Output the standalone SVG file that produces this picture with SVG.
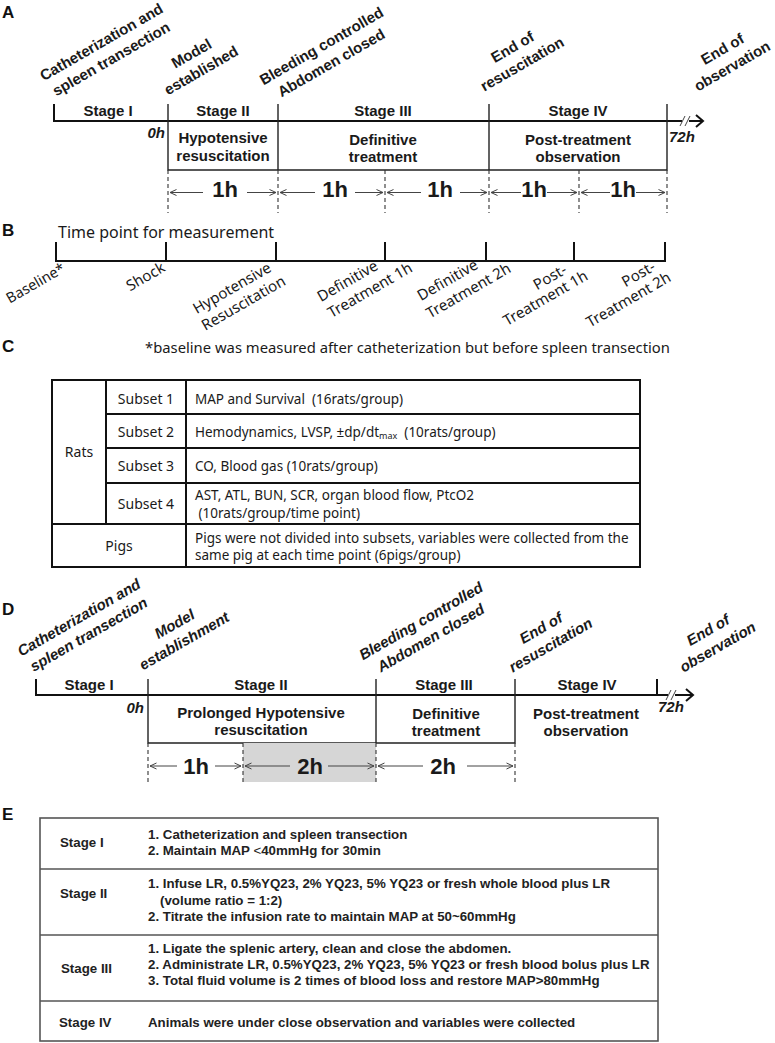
<svg xmlns="http://www.w3.org/2000/svg" width="775" height="1043" viewBox="0 0 775 1043">
<defs>
<style>
.h{font-family:"Liberation Sans",Arial,sans-serif;font-weight:bold;fill:#1a1a1a}
.pl{font-family:"Liberation Sans",Arial,sans-serif;font-weight:bold;font-size:17px;fill:#111}
.st{font-size:15px}
.rl{font-size:15px}
.it{font-style:italic}
.big{font-size:22px;text-anchor:middle}
.mid{text-anchor:middle}
.n{font-family:"Noto Sans","Open Sans",sans-serif;fill:#1a1a1a}
.ln{stroke:#111;stroke-width:2;fill:none}
.bx{stroke:#222;stroke-width:1.4;fill:none}
.ds{stroke:#333;stroke-width:1.1;stroke-dasharray:4 3;fill:none}
.ar{stroke:#444;stroke-width:1;fill:none}
.tb{stroke:#111;stroke-width:2;fill:none}
.te{stroke:#555;stroke-width:1.6;fill:none}
.e{font-family:"Liberation Sans",Arial,sans-serif;font-weight:bold;font-size:13.3px;fill:#222}
</style>
<marker id="oa" viewBox="0 0 8 8" refX="7.5" refY="4" markerWidth="8" markerHeight="8" markerUnits="userSpaceOnUse" orient="auto-start-reverse">
<path d="M1,1 L7.5,4 L1,7" fill="none" stroke="#444" stroke-width="1"/>
</marker>
</defs>
<rect width="775" height="1043" fill="#ffffff"/>

<!-- Panel labels -->
<g id="panel-labels">
<text class="pl" x="2" y="18">A</text>
<text class="pl" x="2" y="236">B</text>
<text class="pl" x="2" y="352">C</text>
<text class="pl" x="2" y="615">D</text>
<text class="pl" x="2" y="820">E</text>
</g>

<!-- ===== Panel A ===== -->
<g id="A-timeline">
<path class="ln" d="M54,104 V121 H682 M689,121 H703"/>
<path class="ln" d="M696,115 L703,121 L696,127"/>
<path class="ar" stroke-width="1.3" d="M680,126 L685,116 M685,126 L690,116"/>
<path class="bx" d="M168,104 V170 H667 V104 M278,104 V170 M489,104 V170"/>
</g>
<g id="A-labels">
<text class="h rl mid" transform="translate(104,46.5) rotate(-30)"><tspan x="0" y="0">Catheterization and</tspan><tspan x="0" y="19.5">spleen transection</tspan></text>
<text class="h rl mid" transform="translate(194,58) rotate(-30)"><tspan x="0" y="0">Model</tspan><tspan x="0" y="19.5">established</tspan></text>
<text class="h rl mid" transform="translate(324,50.5) rotate(-30)"><tspan x="0" y="0">Bleeding controlled</tspan><tspan x="0" y="19.5">Abdomen closed</tspan></text>
<text class="h rl mid" transform="translate(515,51.5) rotate(-30)"><tspan x="0" y="0">End of</tspan><tspan x="0" y="19.5">resuscitation</tspan></text>
<text class="h rl mid" transform="translate(725,53.5) rotate(-30)"><tspan x="0" y="0">End of</tspan><tspan x="0" y="19.5">observation</tspan></text>
</g>
<g id="A-stages">
<text class="h st mid" x="108" y="115.5">Stage I</text>
<text class="h st mid" x="223" y="115.5">Stage II</text>
<text class="h st mid" x="383" y="115.5">Stage III</text>
<text class="h st mid" x="578" y="115.5">Stage IV</text>
<text class="h st it" x="165" y="138" text-anchor="end">0h</text>
<text class="h st it" x="669" y="142">72h</text>
<text class="h st mid" x="223" y="143"><tspan x="223">Hypotensive</tspan><tspan x="223" y="160.5">resuscitation</tspan></text>
<text class="h st mid" x="383" y="144.5"><tspan x="383">Definitive</tspan><tspan x="383" y="162">treatment</tspan></text>
<text class="h st mid" x="578" y="144.5"><tspan x="578">Post-treatment</tspan><tspan x="578" y="162">observation</tspan></text>
</g>
<g id="A-durations">
<path class="ds" d="M168,170 V213 M278,170 V213 M385,170 V213 M489,170 V213 M579,170 V213 M667,170 V213"/>
<g id="A-connectors">
<path class="ar" marker-end="url(#oa)" d="M203,192.5 H170"/>
<path class="ar" marker-end="url(#oa)" d="M247,192.5 H276"/>
<path class="ar" marker-end="url(#oa)" d="M315,192.5 H280"/>
<path class="ar" marker-end="url(#oa)" d="M355,192.5 H383"/>
<path class="ar" marker-end="url(#oa)" d="M421,192.5 H387"/>
<path class="ar" marker-end="url(#oa)" d="M460,192.5 H487"/>
<path class="ar" marker-end="url(#oa)" d="M521,192.5 H491"/>
<path class="ar" marker-end="url(#oa)" d="M547,192.5 H577"/>
<path class="ar" marker-end="url(#oa)" d="M610,192.5 H581"/>
<path class="ar" marker-end="url(#oa)" d="M636,192.5 H665"/>
</g>
<text class="h big" x="225" y="197">1h</text>
<text class="h big" x="335" y="197">1h</text>
<text class="h big" x="440" y="197">1h</text>
<text class="h big" x="534" y="197">1h</text>
<text class="h big" x="623" y="197">1h</text>
</g>

<!-- ===== Panel B ===== -->
<g id="B-timeline">
<text class="n" x="58" y="238" font-size="16">Time point for measurement</text>
<path class="ln" stroke-width="1.6" d="M56,242 V261 H665 V242 M166,242 V261 M276,242 V261 M385,242 V261 M486,242 V261 M574,242 V261"/>
</g>
<g id="B-labels" class="n" font-size="15" text-anchor="middle">
<text transform="translate(38,287.5) rotate(-30)" font-size="14.5">Baseline*</text>
<text transform="translate(148,281) rotate(-30)">Shock</text>
<text transform="translate(234.5,292.5) rotate(-30)">Hypotensive</text>
<text transform="translate(246,307.5) rotate(-30)">Resuscitation</text>
<text transform="translate(350,285.5) rotate(-30)">Definitive</text>
<text transform="translate(372.5,294.5) rotate(-30)">Treatment 1h</text>
<text transform="translate(450,284.5) rotate(-30)">Definitive</text>
<text transform="translate(471,295) rotate(-30)">Treatment 2h</text>
<text transform="translate(552.5,281.5) rotate(-30)">Post-</text>
<text transform="translate(548,302.5) rotate(-30)">Treatment 1h</text>
<text transform="translate(641,278.5) rotate(-30)">Post-</text>
<text transform="translate(631,304) rotate(-30)">Treatment 2h</text>
</g>

<!-- ===== Panel C ===== -->
<g id="C-note">
<text class="n" x="145" y="353" font-size="14.8">*baseline was measured after catheterization but before spleen transection</text>
</g>
<g id="C-table">
<rect class="tb" x="52" y="380" width="588" height="187"/>
<path class="tb" d="M106,380 V524 M186,380 V567 M106,414 H640 M106,448 H640 M106,483 H640 M52,524 H640"/>
<g class="n" font-size="13.5">
<text x="79" y="457" text-anchor="middle" font-size="14">Rats</text>
<text x="146" y="403.5" text-anchor="middle" font-size="14">Subset 1</text>
<text x="146" y="437" text-anchor="middle" font-size="14">Subset 2</text>
<text x="146" y="471" text-anchor="middle" font-size="14">Subset 3</text>
<text x="146" y="509" text-anchor="middle" font-size="14">Subset 4</text>
<text x="119" y="550.5" text-anchor="middle" font-size="14">Pigs</text>
<text x="195" y="403.5" style="white-space:pre">MAP and Survival  (16rats/group)</text>
<text x="195" y="437" style="white-space:pre">Hemodynamics, LVSP, ±dp/dt<tspan font-size="9" dy="2">max</tspan><tspan dy="-2">  (10rats/group)</tspan></text>
<text x="195" y="471">CO, Blood gas (10rats/group)</text>
<text x="195" y="500">AST, ATL, BUN, SCR, organ blood flow, PtcO2</text>
<text x="195" y="517.5" style="white-space:pre"> (10rats/group/time point)</text>
<text x="195" y="542.5">Pigs were not divided into subsets, variables were collected from the</text>
<text x="195" y="560">same pig at each time point (6pigs/group)</text>
</g>
</g>

<!-- ===== Panel D ===== -->
<g id="D-timeline">
<path class="ln" d="M36,679 V695 H668 M675,695 H693"/>
<path class="ln" d="M686,689 L693,695 L686,701"/>
<path class="ar" stroke-width="1.3" d="M666,700 L671,690 M671,700 L676,690"/>
<path class="ln" d="M657,679 V695"/>
<path class="bx" d="M148,679 V743 H515 V679 M376,679 V743"/>
</g>
<g id="D-labels">
<text class="h rl it mid" transform="translate(81.5,622) rotate(-30)"><tspan x="0" y="0">Catheterization and</tspan><tspan x="0" y="19.5">spleen transection</tspan></text>
<text class="h rl it mid" transform="translate(177,628.5) rotate(-30)"><tspan x="0" y="0">Model</tspan><tspan x="0" y="19.5">establishment</tspan></text>
<text class="h rl it mid" transform="translate(423.5,625.5) rotate(-30)"><tspan x="0" y="0">Bleeding controlled</tspan><tspan x="0" y="19.5">Abdomen closed</tspan></text>
<text class="h rl it mid" transform="translate(543.5,632.5) rotate(-30)"><tspan x="0" y="0">End of</tspan><tspan x="0" y="19.5">resuscitation</tspan></text>
<text class="h rl it mid" transform="translate(710.5,634.5) rotate(-30)"><tspan x="0" y="0">End of</tspan><tspan x="0" y="19.5">observation</tspan></text>
</g>
<g id="D-stages">
<text class="h st mid" x="89" y="689.5">Stage I</text>
<text class="h st mid" x="261" y="689.5">Stage II</text>
<text class="h st mid" x="444" y="689.5">Stage III</text>
<text class="h st mid" x="587" y="689.5">Stage IV</text>
<text class="h st it" x="144" y="713" text-anchor="end">0h</text>
<text class="h st it" x="658" y="712">72h</text>
<text class="h st mid" x="261" y="717.5"><tspan x="261">Prolonged Hypotensive</tspan><tspan x="261" y="735">resuscitation</tspan></text>
<text class="h st mid" x="446" y="718.5"><tspan x="446">Definitive</tspan><tspan x="446" y="736">treatment</tspan></text>
<text class="h st mid" x="586" y="718.5"><tspan x="586">Post-treatment</tspan><tspan x="586" y="736">observation</tspan></text>
</g>
<g id="D-durations">
<rect x="243" y="743" width="133" height="39" fill="#d6d6d6"/>
<path class="ds" d="M148,743 V782 M243,743 V782 M376,743 V782 M515,743 V782"/>
<g id="D-connectors">
<path class="ar" marker-end="url(#oa)" d="M177,766 H150"/>
<path class="ar" marker-end="url(#oa)" d="M215,766 H241"/>
<path class="ar" marker-end="url(#oa)" d="M290,766 H245"/>
<path class="ar" marker-end="url(#oa)" d="M328,766 H374"/>
<path class="ar" marker-end="url(#oa)" d="M423,766 H378"/>
<path class="ar" marker-end="url(#oa)" d="M467,766 H513"/>
</g>
<text class="h big" x="196" y="774">1h</text>
<text class="h big" x="310" y="774">2h</text>
<text class="h big" x="443" y="774">2h</text>
</g>

<!-- ===== Panel E ===== -->
<g id="E-table">
<rect class="te" x="40" y="818" width="618" height="223"/>
<path class="te" stroke-width="2.2" stroke="#444" d="M40,869 H658 M40,935 H658"/>
<path class="te" d="M40,1001 H658"/>
</g>
<g id="E-stage1">
<text class="e" x="60" y="847">Stage I</text>
<text class="e" x="148" y="839">1. Catheterization and spleen transection</text>
<text class="e" x="148" y="855">2. Maintain MAP <tspan font-weight="normal">&lt;</tspan>40mmHg for 30min</text>
</g>
<g id="E-stage2">
<text class="e" x="60" y="898">Stage II</text>
<text class="e" x="148" y="888">1. Infuse LR, 0.5%YQ23, 2% YQ23, 5% YQ23 or fresh whole blood plus LR</text>
<text class="e" x="160" y="905">(volume ratio = 1:2)</text>
<text class="e" x="148" y="921">2. Titrate the infusion rate to maintain MAP at 50~60mmHg</text>
</g>
<g id="E-stage3">
<text class="e" x="61" y="973">Stage III</text>
<text class="e" x="148" y="953">1. Ligate the splenic artery, clean and close the abdomen.</text>
<text class="e" x="148" y="969">2. Administrate LR, 0.5%YQ23, 2% YQ23, 5% YQ23 or fresh blood bolus plus LR</text>
<text class="e" x="148" y="985">3. Total fluid volume is 2 times of blood loss and restore MAP&gt;80mmHg</text>
</g>
<g id="E-stage4">
<text class="e" x="59" y="1027">Stage IV</text>
<text class="e" x="148" y="1027">Animals were under close observation and variables were collected</text>
</g>
</svg>
